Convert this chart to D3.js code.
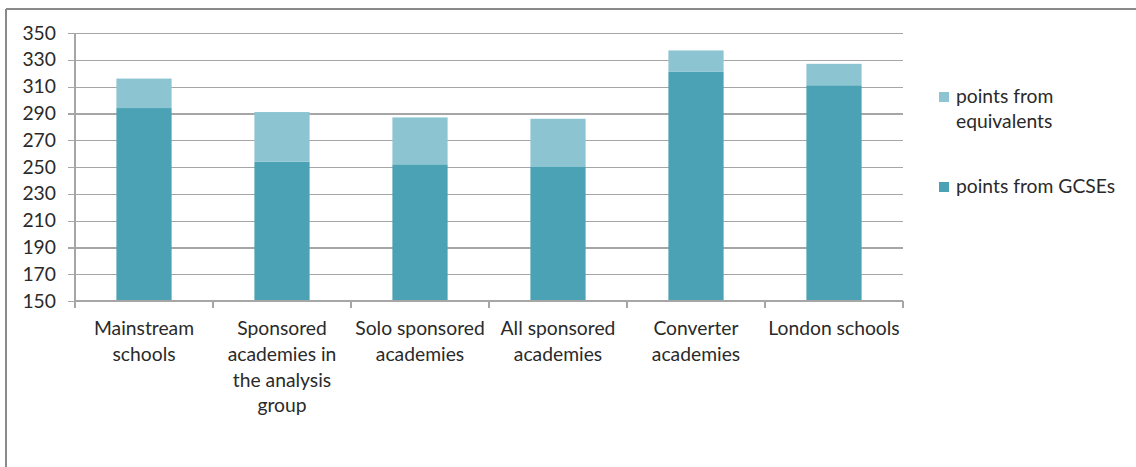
<!DOCTYPE html>
<html><head><meta charset="utf-8">
<script src="https://cdn.jsdelivr.net/npm/d3@7"></script>
<style>
html,body{margin:0;padding:0;background:#fff;}
svg{display:block;}
text{font-family:Lato,"Open Sans",sans-serif;fill:#2a2a2a;}
</style></head>
<body>
<svg id="chart" width="1136" height="467"></svg>
<script>
const categories = ["Mainstream schools","Sponsored academies in the analysis group","Solo sponsored academies","All sponsored academies","Converter academies","London schools"];
const categoryLines = [["Mainstream","schools"],["Sponsored","academies in","the analysis","group"],["Solo sponsored","academies"],["All sponsored","academies"],["Converter","academies"],["London schools"]];
const gcsePoints = [294, 254, 252, 250, 321, 311];
const equivalentPoints = [22, 37, 35, 36, 16, 16];
const seriesNames = ["points from GCSEs","points from equivalents"];
const yTicks = [150,170,190,210,230,250,270,290,310,330,350];

const colors = {"points from GCSEs":"#4aa2b4","points from equivalents":"#8dc4d1"};
const svg = d3.select("#chart");
const W = 1136, H = 467;
const FS = 19.3;

// outer border (top and left)
svg.append("line").attr("x1",6).attr("x2",W).attr("y1",9).attr("y2",9).attr("stroke","#8a8a8a").attr("stroke-width",2);
svg.append("line").attr("x1",6).attr("x2",6).attr("y1",9).attr("y2",H).attr("stroke","#8a8a8a").attr("stroke-width",2);

const pLeft = 75, pRight = 903, pTop = 33, pBottom = 301;
const x = d3.scaleBand().domain(categories).range([pLeft,pRight]).paddingInner(0.6).paddingOuter(0.3);
const y = d3.scaleLinear().domain([150,350]).range([pBottom,pTop]);

const data = categories.map((c,i)=>({cat:c, "points from GCSEs":gcsePoints[i], "points from equivalents":equivalentPoints[i]}));
const stacked = d3.stack().keys(seriesNames)(data);

// gridlines + y axis
const yAxis = d3.axisLeft(y).tickValues(yTicks).tickSize(pRight-pLeft+7).tickPadding(12);
const gy = svg.append("g").attr("transform",`translate(${pRight},0)`).call(yAxis);
gy.select(".domain").remove();
gy.selectAll(".tick line").attr("stroke","#a6a6a6").attr("stroke-width",1.2).attr("shape-rendering","crispEdges");
gy.selectAll(".tick text").attr("font-size",FS).attr("fill","#2a2a2a").style("font-family","Lato, sans-serif");

// vertical axis line
svg.append("line").attr("x1",pLeft).attr("x2",pLeft).attr("y1",pTop).attr("y2",pBottom).attr("stroke","#a6a6a6").attr("stroke-width",1.2).attr("shape-rendering","crispEdges");

// bars
const baseVal = 150;
svg.append("g").selectAll("g").data(stacked).join("g")
  .attr("fill",d=>colors[d.key])
  .selectAll("rect").data(d=>d).join("rect")
  .attr("x",d=>x(d.data.cat))
  .attr("width",x.bandwidth())
  .attr("y",d=>y(d[1]))
  .attr("height",d=>y(Math.max(d[0],baseVal))-y(d[1]));

// bottom axis
const gx = svg.append("g").attr("transform",`translate(0,${pBottom})`);
gx.append("line").attr("x1",pLeft).attr("x2",pRight).attr("y1",0).attr("y2",0)
  .attr("stroke","#a6a6a6").attr("stroke-width",1.2).attr("shape-rendering","crispEdges");
const bounds = d3.range(categories.length+1).map(i=>pLeft + i*(pRight-pLeft)/categories.length);
gx.selectAll(".bnd").data(bounds).join("line").attr("class","bnd")
  .attr("x1",d=>d).attr("x2",d=>d).attr("y1",0).attr("y2",7)
  .attr("stroke","#a6a6a6").attr("stroke-width",1.2).attr("shape-rendering","crispEdges");

// category labels
const lab = svg.append("g");
categories.forEach((c,i)=>{
  const cx = x(c)+x.bandwidth()/2;
  const t = lab.append("text").attr("x",cx).attr("y",335).attr("text-anchor","middle").attr("font-size",FS);
  categoryLines[i].forEach((ln,j)=>{
    t.append("tspan").attr("x",cx).attr("y",335+j*25.8).text(ln);
  });
});

// legend
const legendItems = [
  {key:"points from equivalents", lines:["points from","equivalents"], y:103},
  {key:"points from GCSEs", lines:["points from GCSEs"], y:193}
];
const lg = svg.append("g");
legendItems.forEach(it=>{
  lg.append("rect").attr("x",939).attr("y",it.y-11).attr("width",10).attr("height",10).attr("fill",colors[it.key]);
  const t = lg.append("text").attr("x",956).attr("y",it.y).attr("font-size",FS);
  it.lines.forEach((ln,j)=>t.append("tspan").attr("x",956).attr("y",it.y+j*25).text(ln));
});
</script>
</body></html>
